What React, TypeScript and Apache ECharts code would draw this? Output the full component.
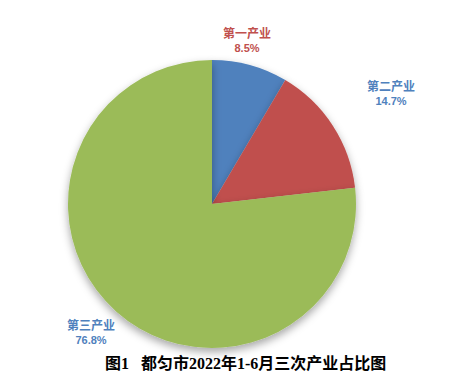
import React, { useEffect, useRef } from "react";
import * as echarts from "echarts";

const categories = ["第一产业", "第二产业", "第三产业"];
const values = [8.5, 14.7, 76.8];
const sliceColors = ["#4F81BD", "#C0504D", "#9BBB59"];
const labelColors = ["#C0504D", "#4F81BD", "#4F81BD"];
const labelPositions = [
  [247, 40],
  [391, 93],
  [91, 332],
];
const titleText = "图1   都匀市2022年1-6月三次产业占比图";

export default function App() {
  const ref = useRef<HTMLDivElement>(null);
  useEffect(() => {
    const chart = echarts.init(ref.current!, undefined, { renderer: "svg" });
    chart.setOption({
      animation: false,
      backgroundColor: "#ffffff",
      title: {
        text: titleText,
        left: 100,
        top: 350,
        textStyle: {
          fontFamily: "'Liberation Serif', 'Noto Sans CJK SC', serif",
          fontWeight: "bold",
          fontSize: 16,
          color: "#000000",
        },
      },
      series: [
        {
          type: "pie",
          center: [212, 204],
          radius: [0, 144],
          startAngle: 90,
          clockwise: true,
          data: categories.map((c, i) => ({
            name: c,
            value: values[i],
            itemStyle: { color: sliceColors[i] },
            label: { color: labelColors[i] },
          })),
          itemStyle: {
            borderWidth: 0,
            shadowBlur: 8,
            shadowColor: "rgba(0,0,0,0.35)",
            shadowOffsetY: 4,
          },
          label: {
            show: true,
            position: "outside",
            formatter: (p: any) => `{n|${p.name}}\n{v|${p.value.toFixed(1)}%}`,
            rich: {
              n: {
                fontFamily: "'Noto Sans CJK SC', sans-serif",
                fontWeight: "bold",
                fontSize: 12,
                lineHeight: 16,
                align: "center",
              },
              v: {
                fontFamily: "'Liberation Sans', 'Noto Sans', sans-serif",
                fontWeight: "bold",
                fontSize: 11,
                lineHeight: 15,
                align: "center",
              },
            },
          },
          labelLine: { show: false },
          labelLayout: (params: any) => ({
            x: labelPositions[params.dataIndex][0],
            y: labelPositions[params.dataIndex][1],
            align: "center",
            verticalAlign: "middle",
          }),
          emphasis: { disabled: true },
        },
      ],
    });
    return () => chart.dispose();
  }, []);
  return <div ref={ref} style={{ width: 455, height: 381, marginLeft: -8, marginTop: -8 }} />;
}
